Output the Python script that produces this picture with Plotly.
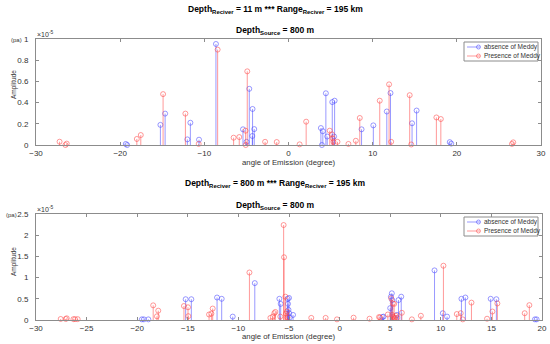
import plotly.graph_objects as go

# ---------------- data (amplitudes in units of 1e-5 Pa) ----------------
top_abs_angle = [-19.33, -19.17, -15.22, -14.66, -12.02, -11.66, -10.63, -8.62, -5.41, -4.98,
                 -4.66, -4.30, -4.27, -4.07, 3.85, 3.97, 4.08, 4.44, 4.60, 5.20, 5.42, 5.48,
                 8.68, 10.08, 11.68, 12.12, 14.68, 15.22, 19.16, 19.33]
top_abs_amp = [0.010, 0.0, 0.19, 0.296, 0.053, 0.21, 0.05, 0.953, 0.148, 0.03,
               0.53, 0.085, 0.34, 0.15, 0.16, 0.0, 0.13, 0.488, 0.08, 0.405, 0.08, 0.418,
               0.148, 0.185, 0.316, 0.49, 0.205, 0.325, 0.027, 0.013]

top_pre_angle = [-27.20, -26.50, -26.35, -18.02, -17.55, -14.90, -12.25, -10.67, -8.42, -6.52,
                 -5.85, -5.10, -5.08, -4.90, -2.78, -1.40, 1.32, 2.10, 4.90, 5.18, 5.26,
                 5.34, 5.82, 7.12, 8.00, 8.47, 10.84, 11.95, 12.20, 14.40, 14.58, 17.57,
                 18.10, 26.55, 26.70]
top_pre_amp = [0.031, 0.0, 0.013, 0.057, 0.094, 0.48, 0.296, 0.01, 0.90, 0.069,
               0.075, 0.135, 0.0, 0.695, 0.03, 0.028, 0.006, 0.22, 0.135, 0.10, 0.063,
               0.03, 0.03, 0.01, 0.04, 0.255, 0.418, 0.572, 0.03, 0.47, 0.005, 0.26,
               0.245, 0.01, 0.025]

bot_abs_angle = [-19.54, -19.34, -18.90, -15.21, -14.65, -12.11, -11.65, -10.56, -8.38, -5.95,
                 -5.82, -5.13, -5.10, -5.05, -5.00, -4.98, -4.93, -4.60, 4.24, 4.34, 5.00,
                 5.07, 5.16, 5.20, 5.66, 5.82, 6.09, 9.38, 10.20, 10.62, 12.04, 12.43,
                 14.93, 15.49, 19.30, 19.47]
bot_abs_amp = [0.015, 0.015, 0.015, 0.49, 0.49, 0.53, 0.50, 0.08, 0.87, 0.50,
               0.38, 0.50, 0.38, 0.24, 0.52, 0.16, 0.06, 0.12, 0.07, 0.08, 0.28,
               0.55, 0.63, 0.47, 0.12, 0.47, 0.55, 1.17, 0.16, 0.08, 0.50, 0.53,
               0.50, 0.49, 0.015, 0.015]

bot_pre_angle = [-27.56, -27.06, -26.96, -26.30, -26.14, -25.88, -18.42, -18.05, -17.92, -15.38,
                 -14.98, -14.95, -12.90, -12.67, -12.54, -8.91, -6.84, -6.60, -6.45, -6.35,
                 -5.86, -5.53, -5.49, -5.36, -5.30, -5.20, -5.15, -2.80, -1.38, -0.26,
                 1.38, 2.96, 3.90, 4.00, 4.77, 5.10, 5.20, 5.26, 5.30, 5.39, 5.45, 5.55,
                 5.70, 6.15, 7.14, 8.03, 10.26, 11.58, 11.97, 12.17, 13.03, 14.57, 15.10,
                 15.59, 18.29, 18.75]
bot_pre_amp = [0.024, 0.024, 0.04, 0.02, 0.02, 0.02, 0.346, 0.087, 0.22, 0.33,
               0.30, 0.09, 0.13, 0.15, 0.27, 1.12, 0.05, 0.08, 0.16, 0.19,
               0.08, 2.24, 1.48, 0.55, 0.15, 0.20, 0.06, 0.05, 0.05, 0.015,
               0.055, 0.03, 0.07, 0.06, 0.13, 0.51, 0.12, 0.39, 0.08, 0.38, 0.05, 0.10,
               0.05, 0.17, 0.015, 0.10, 1.28, 0.14, 0.16, 0.015, 0.41, 0.03, 0.20,
               0.39, 0.16, 0.35]

series_names = ["absence of Meddy", "Presence of Meddy"]
top_xticks = [-30, -20, -10, 0, 10, 20, 30]
top_yticks = [0, 0.2, 0.4, 0.6, 0.8, 1]
bot_xticks = [-30, -25, -20, -15, -10, -5, 0, 5, 10, 15, 20]
bot_yticks = [0, 0.5, 1, 1.5, 2, 2.5]

# ---------------- styling ----------------
W, H = 550, 344
BLUE = "rgba(70,70,255,0.55)"
RED = "rgba(255,70,70,0.55)"
FONT = "Liberation Sans"
AXC = "#8c8c8c"
TXT = "#333333"

def px(x):
    return x / W

def py(y):
    return 1 - y / H

fig = go.Figure()

def stems(xs, ys, color, xa, ya):
    fig.add_trace(go.Scatter(
        x=xs, y=ys, mode="markers", xaxis=xa, yaxis=ya, showlegend=False,
        marker=dict(symbol="circle-open", size=5, color=color, line=dict(width=1, color=color)),
        error_y=dict(type="data", symmetric=False, array=[0] * len(ys), arrayminus=ys,
                     color=color, thickness=1, width=0),
        cliponaxis=False, hoverinfo="x+y"))

stems(top_abs_angle, top_abs_amp, BLUE, "x", "y")
stems(top_pre_angle, top_pre_amp, RED, "x", "y")
stems(bot_abs_angle, bot_abs_amp, BLUE, "x2", "y2")
stems(bot_pre_angle, bot_pre_amp, RED, "x2", "y2")

axis_common = dict(showline=True, linecolor=AXC, linewidth=1, mirror="ticks", ticks="inside",
                   ticklen=3, tickcolor=AXC, showgrid=False, zeroline=False, automargin=False,
                   tickfont=dict(family=FONT, size=8, color=TXT))

top_y0, top_y1 = 39, 145
bot_y0, bot_y1 = 214, 320
xl, xr = 36, 541

fig.update_layout(
    width=W, height=H, margin=dict(l=0, r=0, t=0, b=0, autoexpand=False),
    paper_bgcolor="white", plot_bgcolor="white", showlegend=False,
    xaxis=dict(domain=[px(xl), px(xr)], range=[-30, 30], tickvals=top_xticks, anchor="y",
               ticklabelstandoff=0, **axis_common),
    yaxis=dict(domain=[py(top_y1), py(top_y0)], range=[0, 1], tickvals=top_yticks,
               ticktext=[f"{v:g}" for v in top_yticks], anchor="x", ticklabelstandoff=5,
               **axis_common),
    xaxis2=dict(domain=[px(xl), px(xr + 1)], range=[-30, 20], tickvals=bot_xticks, anchor="y2",
                ticklabelstandoff=0, **axis_common),
    yaxis2=dict(domain=[py(bot_y1), py(bot_y0)], range=[0, 2.5], tickvals=bot_yticks,
                ticktext=[f"{v:g}" for v in bot_yticks], anchor="x2", ticklabelstandoff=5,
                **axis_common),
)

ann = []
shapes = []

def text(x, y, s, size=8, bold=False, xanchor="center", angle=0, color="black"):
    if bold:
        s = "<b>" + s + "</b>"
    ann.append(dict(x=px(x), y=py(y), xref="paper", yref="paper", text=s, showarrow=False,
                    xanchor=xanchor, yanchor="middle", textangle=angle,
                    font=dict(family=FONT, size=size, color=color)))

text(275, 9, "Depth<sub>Reciver</sub> = 11 m *** Range<sub>Reciver</sub> = 195 km", size=8.5, bold=True)
text(275, 31, "Depth<sub>Source</sub> = 800 m", size=8.5, bold=True)
text(275, 184, "Depth<sub>Reciver</sub> = 800 m *** Range<sub>Reciver</sub> = 195 km", size=8.5, bold=True)
text(275, 206, "Depth<sub>Source</sub> = 800 m", size=8.5, bold=True)

for (y0, y1, pax, amid, lab) in [(top_y0, top_y1, 16, 85, 163), (bot_y0, bot_y1, 11, 262, 336)]:
    text(14, amid, "Amplitude", size=6.5, angle=-90, color=TXT)
    text(pax, y0 + 1, "(pa)", size=6, color=TXT)
    text(35, y0 - 5, "×10<sup>-5</sup>", size=7, xanchor="left", color=TXT)
    text(289, lab, "angle of Emission (degree)", size=7.8, color=TXT)

# legend boxes (manual, compact like the original)
for ly in [42, 217]:
    shapes.append(dict(type="rect", xref="paper", yref="paper",
                       x0=px(464), x1=px(538), y0=py(ly + 19), y1=py(ly),
                       line=dict(color=AXC, width=1), fillcolor="white", layer="above"))
    for i, (name, col) in enumerate(zip(series_names, [BLUE, RED])):
        yy = ly + 5 + i * 9
        shapes.append(dict(type="line", xref="paper", yref="paper",
                           x0=px(467), x1=px(480), y0=py(yy), y1=py(yy),
                           line=dict(color=col, width=1), layer="above"))
        shapes.append(dict(type="circle", xref="paper", yref="paper",
                           x0=px(476.5), x1=px(480.5), y0=py(yy + 2), y1=py(yy - 2),
                           line=dict(color=col, width=1), layer="above"))
        text(482, yy, name, size=6.5, xanchor="left", color=TXT)

fig.update_layout(annotations=ann, shapes=shapes)
fig.write_html(
    "out.html",
    config={"displayModeBar": False},
    post_script=("document.documentElement.style.margin='0';"
                 "document.body.style.margin='0';"
                 "document.documentElement.style.overflow='hidden';"
                 "document.body.style.overflow='hidden';"),
)
